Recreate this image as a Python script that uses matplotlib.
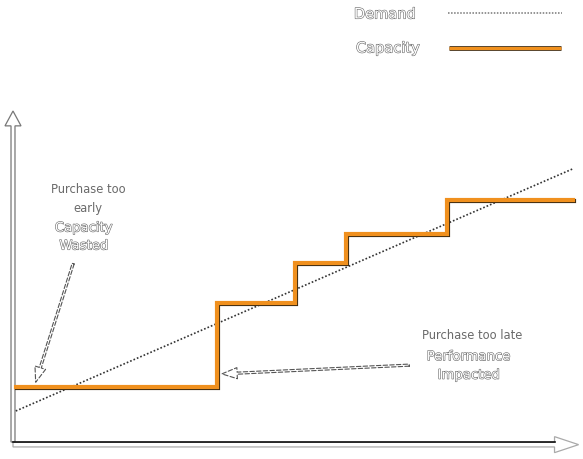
import matplotlib
matplotlib.use("Agg")
import matplotlib.pyplot as plt
import matplotlib.patheffects as pe
from matplotlib.patches import FancyArrow

# ---- data (abstract units: time, capacity) ----
step_times = [0.05, 3.64, 5.04, 5.95, 7.75, 10.0]      # capacity purchase times (start, steps, end)
capacity_levels = [16.7, 42.1, 54.2, 63.0, 73.3]       # capacity after each purchase
demand_times = [0.05, 10.0]
demand_values = [9.4, 82.8]
legend_labels = ["Demand", "Capacity"]
note_early = ["Purchase too\nearly", "Capacity\nWasted"]
note_late = ["Purchase too late", "Performance\nImpacted"]
early_target = (0.39, 17.3)
late_target = (3.68, 20.6)

W, H = 583, 460
fig = plt.figure(figsize=(W / 100, H / 100), dpi=100)
ax = fig.add_axes([0, 0, 1, 1])
# pixel mapping: x_px = 13 + 56 t ; y_px = 443 - 3.3 c
ax.set_xlim(-13 / 56, (W - 13) / 56)
ax.set_ylim((443 - H) / 3.3, 443 / 3.3)
ax.axis("off")


def fx(x, y):
    return (x / W, 1 - y / H)


ORANGE = "#F0901E"
DARK = "#3d2a10"
GRAY = "#777777"

# axes arrows (hollow)
ax.add_patch(FancyArrow(0.0, 0, 0, 100.3, width=0.071, head_width=0.286, head_length=4.5,
                        length_includes_head=True, fc="white", ec=GRAY, lw=0.9, zorder=2))
ax.add_patch(FancyArrow(0.0, -0.8, 10.1, 0, width=1.4, head_width=4.85, head_length=0.43,
                        length_includes_head=True, fc="white", ec="#aaaaaa", lw=0.9, zorder=2))
ax.plot([0.0, 9.68], [0, 0], color="#111111", lw=1.2, zorder=3)

# demand
ax.plot(demand_times, demand_values, color="#333333", lw=1.2, ls=(0, (1, 1.2)), zorder=4)

# capacity step line
xs, ys = [], []
for i, lvl in enumerate(capacity_levels):
    xs += [step_times[i], step_times[i + 1]]
    ys += [lvl, lvl]
ax.plot(xs, ys, color=ORANGE, lw=3.0, solid_joinstyle="miter", zorder=5,
        path_effects=[pe.SimpleLineShadow(offset=(0.9, -0.9), shadow_color=DARK, alpha=1),
                      pe.Normal()])

# legend
hollow = [pe.withStroke(linewidth=0.8, foreground="#666666")]
ax.text(*fx(385, 15), legend_labels[0], transform=ax.transAxes, ha="center", va="center",
        fontsize=10.5, color="white", path_effects=hollow)
ax.text(*fx(388, 49), legend_labels[1], transform=ax.transAxes, ha="center", va="center",
        fontsize=10.5, color="white", path_effects=hollow)
ax.plot([448 / W, 562 / W], [1 - 14 / H] * 2, transform=ax.transAxes, color="#777777",
        lw=1.1, ls=(0, (1, 1.0)))
ax.plot([449 / W, 561 / W], [1 - 48.5 / H] * 2, transform=ax.transAxes, color=ORANGE, lw=2.2,
        solid_capstyle="butt",
        path_effects=[pe.Stroke(linewidth=3.4, foreground=DARK), pe.Normal()])

# annotations
ax.text(*fx(88, 199), note_early[0], transform=ax.transAxes, ha="center", va="center",
        fontsize=8.3, color="#6a6a6a", linespacing=1.55)
ax.text(*fx(84, 238), note_early[1], transform=ax.transAxes, ha="center", va="center",
        fontsize=9.5, color="white", path_effects=hollow, linespacing=1.5)
ax.text(*fx(472, 336), note_late[0], transform=ax.transAxes, ha="center", va="center",
        fontsize=8.3, color="#6a6a6a")
ax.text(*fx(469, 367), note_late[1], transform=ax.transAxes, ha="center", va="center",
        fontsize=9.5, color="white", path_effects=hollow, linespacing=1.55)

arrow_kw = dict(arrowstyle="simple,head_length=1.1,head_width=0.8,tail_width=0.15",
                fc="white", ec="#555555", lw=0.8, ls=(0, (4, 2)))
ax.annotate("", xy=early_target, xytext=fx(74, 262), textcoords="axes fraction",
            arrowprops=arrow_kw, zorder=6)
ax.annotate("", xy=late_target, xytext=fx(412, 366), textcoords="axes fraction",
            arrowprops=arrow_kw, zorder=6)

fig.savefig("out.png", dpi=100)
